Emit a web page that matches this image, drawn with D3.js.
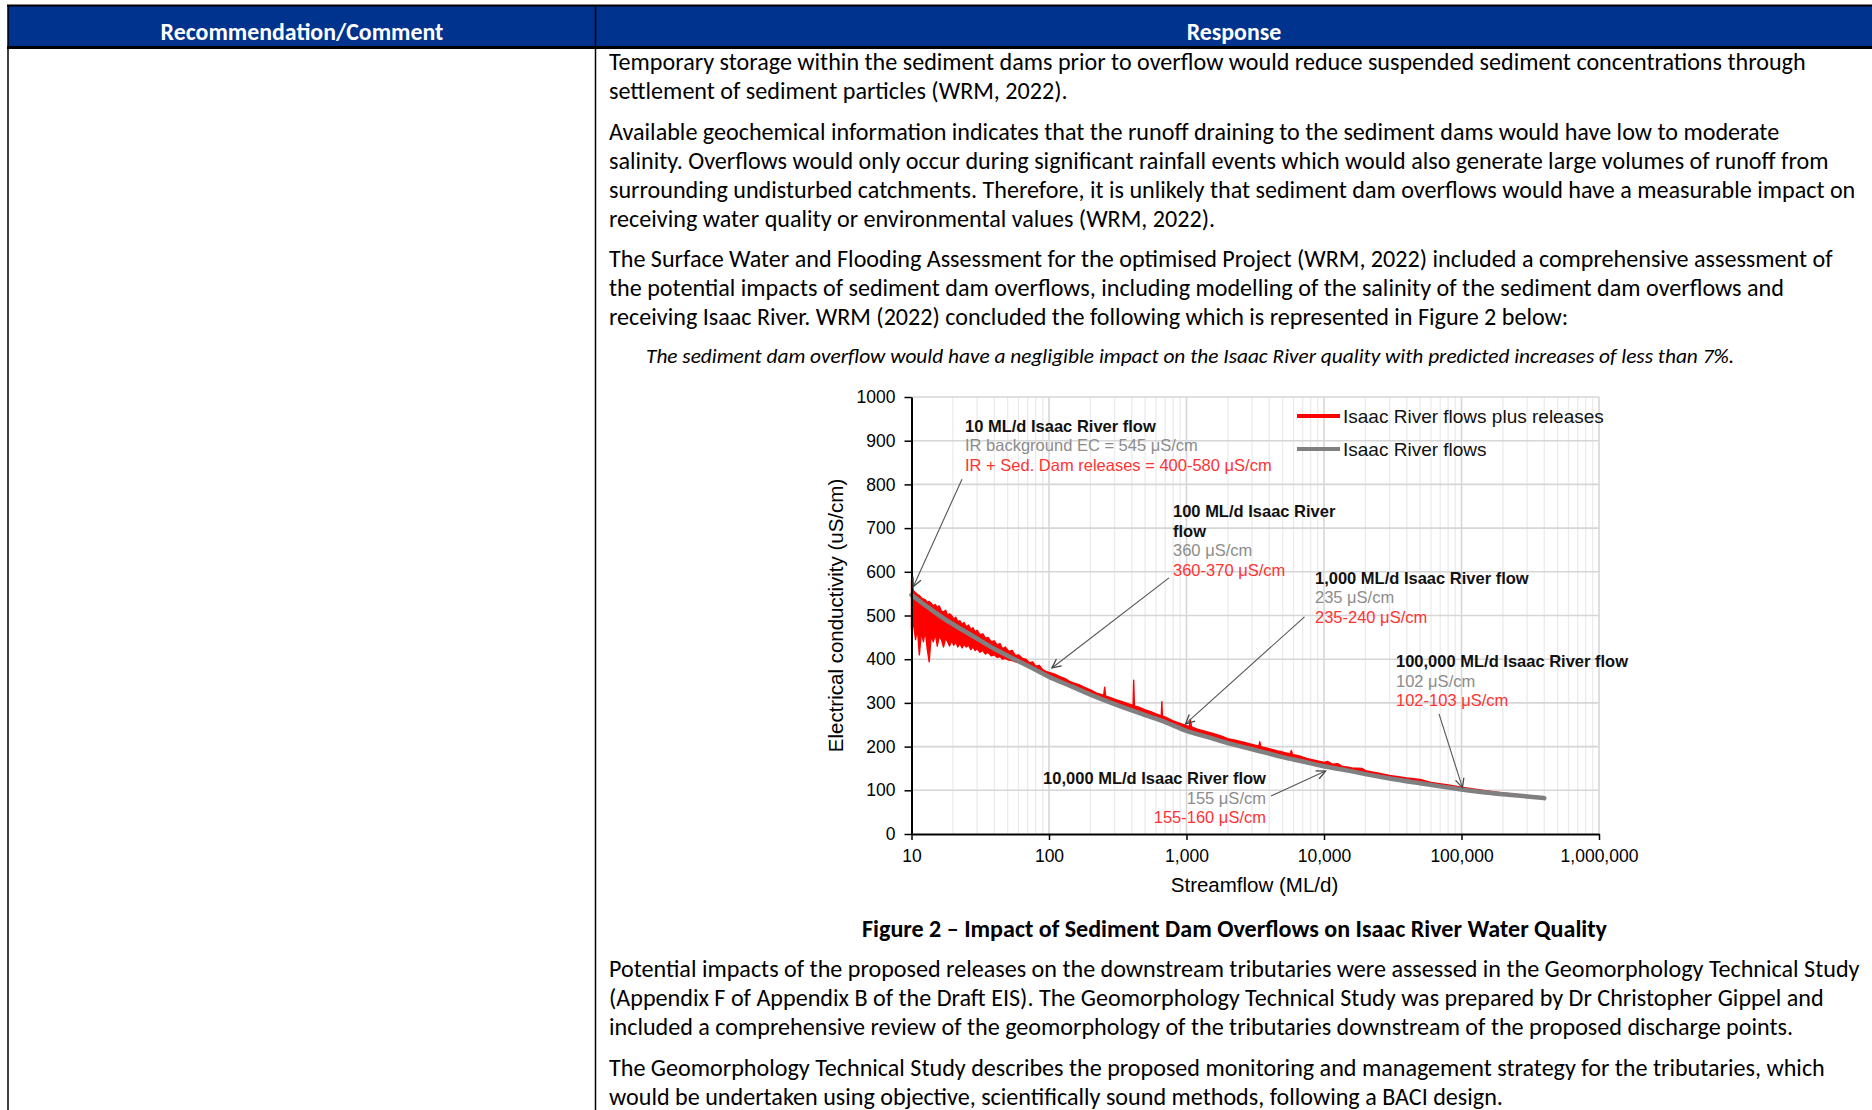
<!DOCTYPE html>
<html>
<head>
<meta charset="utf-8">
<script src="https://cdnjs.cloudflare.com/ajax/libs/d3/7.8.5/d3.min.js"></script>
<style>
	body { margin: 0; background: #fff; }
	svg { display: block; }
</style>
</head>
<body>
<svg width="1872" height="1110"></svg>
<script>
	//chart data: streamflow (ML/d) vs electrical conductivity (uS/cm)
	let xTicks = [10, 100, 1000, 10000, 100000, 1000000];
	let yTicks = [0, 100, 200, 300, 400, 500, 600, 700, 800, 900, 1000];

	//Isaac River flows (background)
	let flowQ = [10, 11, 12, 13, 14, 15, 17, 20, 25, 30, 40, 50, 70, 100, 150, 200, 300, 500, 700,
		1000, 1500, 2000, 3000, 5000, 7000, 10000, 15000, 20000, 30000, 50000, 70000, 100000,
		150000, 200000, 300000, 400000];
	let flowEC = [547, 537, 528, 520, 513, 506, 494, 480, 462, 447, 424, 408, 385, 360, 336, 319, 297, 272, 256,
		236, 220, 208, 194, 176, 166, 155, 145, 137, 127, 116, 109, 102,
		95, 91, 86, 82];

	//Isaac River flows plus releases (min / max envelope)
	let relQ = [10, 10.35, 10.7, 11.05, 11.4, 11.8, 12.2, 12.6, 13, 13.45, 13.9, 14.4, 14.9, 15.4, 15.9,
		16.5, 17.1, 17.7, 18.3, 18.9, 19.6, 20.3, 21, 21.7, 22.5, 23.3, 24.1, 25, 26, 27, 28, 29, 30,
		31.5, 33, 34.5, 36, 38, 40, 42, 44, 46, 48, 51, 54, 57, 60, 64, 68, 72, 76, 80, 85, 90, 95,
		100, 110, 120, 130, 140, 150, 165, 180, 200, 220, 245, 250, 254, 258, 280, 310, 340, 370,
		404, 409, 413, 418, 450, 500, 550, 600, 648, 655, 662, 668, 720, 800, 900, 1000, 1052, 1062, 1090,
		1200, 1400, 1600, 1800, 2000, 2300, 2600, 3000, 3360, 3410, 3470, 4000, 4600, 4800, 5200, 5680,
		5780, 5900, 6500, 7500, 8500, 10000, 10600, 11500, 12600, 13500, 16000, 19000, 20000, 25000, 30000,
		40000, 50000, 60000, 80000, 100000, 150000, 200000, 300000, 400000];
	let relLo = [468, 480, 445, 470, 410, 462, 440, 465, 425, 394, 455, 440, 458, 430, 452,
		445, 428, 448, 440, 430, 442, 432, 440, 428, 436, 426, 434, 428, 432, 422, 428, 420, 424,
		416, 420, 412, 416, 408, 410, 404, 406, 400, 402, 398, 397, 394, 392, 389, 385, 381, 378, 374, 370, 365, 360,
		356, 351, 346, 342, 338, 334, 329, 324, 317, 312, 307, 306, 306, 305, 301, 296, 292, 288,
		284, 283, 283, 283, 279, 273, 268, 264, 260, 260, 260, 259, 255, 249, 242, 236, 233, 233, 232,
		228, 222, 217, 212, 208, 203, 199, 194, 190, 190, 189, 184, 179, 178, 176, 173,
		173, 172, 169, 164, 160, 155, 153, 151, 148, 147, 142, 138, 137, 131, 127,
		120, 116, 112, 106, 102, 95, 91, 85, 81];
	let relHi = [580, 556, 552, 548, 546, 540, 538, 536, 530, 532, 528, 522, 525, 518, 522,
		510, 508, 512, 500, 504, 500, 492, 496, 486, 488, 480, 484, 474, 478, 468, 472, 462, 466,
		456, 458, 448, 450, 440, 442, 432, 436, 424, 428, 418, 420, 408, 410, 402, 400, 392, 394, 384, 386, 376, 372,
		370, 366, 360, 356, 350, 346, 342, 336, 330, 323, 318, 318, 336, 316, 312, 307, 303, 299,
		295, 294, 352, 293, 290, 284, 280, 275, 271, 270, 303, 270, 266, 259, 253, 248, 246, 262, 245,
		240, 234, 229, 224, 218, 214, 210, 205, 201, 211, 200, 195, 190, 189, 186, 183,
		191, 182, 179, 173, 169, 164, 166, 160, 161, 155, 151, 150, 145, 139, 134,
		128, 125, 118, 112, 107, 99, 94, 88, 84];

	let seriesNames = ["Isaac River flows plus releases", "Isaac River flows"];
	let seriesColors = ["#ff0000", "#808080"];

	//callouts: anchor of the text block and arrow tail/head, all in data units
	let notes = [
		{q: 24.5, ec: 921, anchor: "start",
			lines: [["10 ML/d Isaac River flow", "b"], ["IR background EC = 545 μS/cm", "g"], ["IR + Sed. Dam releases = 400-580 μS/cm", "r"]],
			from: [23.3, 812], to: [10.3, 566]},
		{q: 798, ec: 725, anchor: "start",
			lines: [["100 ML/d Isaac River", "b"], ["flow", "b"], ["360 μS/cm", "g"], ["360-370 μS/cm", "r"]],
			from: [746, 586], to: [105, 380]},
		{q: 8600, ec: 573, anchor: "start",
			lines: [["1,000 ML/d Isaac River flow", "b"], ["235 μS/cm", "g"], ["235-240 μS/cm", "r"]],
			from: [7215, 497], to: [984, 252]},
		{q: 33400, ec: 382, anchor: "start",
			lines: [["100,000 ML/d Isaac River flow", "b"], ["102 μS/cm", "g"], ["102-103 μS/cm", "r"]],
			from: [68600, 275], to: [101600, 106]},
		{q: 3785, ec: 114, anchor: "end",
			lines: [["10,000 ML/d Isaac River flow", "b"], ["155 μS/cm", "g"], ["155-160 μS/cm", "r"]],
			from: [4120, 87], to: [10260, 144]}
	];
	let noteColors = {b: "#111", g: "#8c8c8c", r: "#ff3333"};

	//document text
	let topParas = [
		["Temporary storage within the sediment dams prior to overflow would reduce suspended sediment concentrations through",
			"settlement of sediment particles (WRM, 2022)."],
		["Available geochemical information indicates that the runoff draining to the sediment dams would have low to moderate",
			"salinity. Overflows would only occur during significant rainfall events which would also generate large volumes of runoff from",
			"surrounding undisturbed catchments. Therefore, it is unlikely that sediment dam overflows would have a measurable impact on",
			"receiving water quality or environmental values (WRM, 2022)."],
		["The Surface Water and Flooding Assessment for the optimised Project (WRM, 2022) included a comprehensive assessment of",
			"the potential impacts of sediment dam overflows, including modelling of the salinity of the sediment dam overflows and",
			"receiving Isaac River. WRM (2022) concluded the following which is represented in Figure 2 below:"]
	];
	let quote = "The sediment dam overflow would have a negligible impact on the Isaac River quality with predicted increases of less than 7%.";
	let caption = "Figure 2 – Impact of Sediment Dam Overflows on Isaac River Water Quality";
	let bottomParas = [
		["Potential impacts of the proposed releases on the downstream tributaries were assessed in the Geomorphology Technical Study",
			"(Appendix F of Appendix B of the Draft EIS). The Geomorphology Technical Study was prepared by Dr Christopher Gippel and",
			"included a comprehensive review of the geomorphology of the tributaries downstream of the proposed discharge points."],
		["The Geomorphology Technical Study describes the proposed monitoring and management strategy for the tributaries, which",
			"would be undertaken using objective, scientifically sound methods, following a BACI design."]
	];

	let svg = d3.select("svg");
	let docFont = "Carlito, Lato, 'Open Sans', sans-serif";
	let chartFont = "Arial, 'Liberation Sans', sans-serif";

	//scale a text's font size so the line is as wide as in the reference
	function fit(sel, target) {
		let fs = parseFloat(sel.attr("font-size"));
		let w = sel.node().getComputedTextLength();
		return fs * target / w;
	}

	//table frame and header
	svg.append("rect").attr("x", 8).attr("y", 6).attr("width", 1864).attr("height", 41).attr("fill", "#00338e");
	svg.append("line").attr("x1", 7).attr("x2", 1872).attr("y1", 5.5).attr("y2", 5.5).attr("stroke", "#000").attr("stroke-width", 2);
	svg.append("line").attr("x1", 7).attr("x2", 1872).attr("y1", 47.5).attr("y2", 47.5).attr("stroke", "#000").attr("stroke-width", 3);
	svg.append("line").attr("x1", 8).attr("x2", 8).attr("y1", 5).attr("y2", 1110).attr("stroke", "#000").attr("stroke-width", 1.5);
	svg.append("line").attr("x1", 595.5).attr("x2", 595.5).attr("y1", 5).attr("y2", 1110).attr("stroke", "#000").attr("stroke-width", 1.5);

	let h1 = svg.append("text").attr("x", 302).attr("y", 39.5).attr("text-anchor", "middle")
		.attr("font-family", docFont).attr("font-weight", "bold").attr("font-size", 20).attr("fill", "#fff")
		.text("Recommendation/Comment");
	let hs = fit(h1, 283);
	h1.attr("font-size", hs);
	svg.append("text").attr("x", 1234).attr("y", 39.5).attr("text-anchor", "middle")
		.attr("font-family", docFont).attr("font-weight", "bold").attr("font-size", hs).attr("fill", "#fff")
		.text("Response");

	//body paragraphs
	let body = svg.append("g").attr("font-family", docFont).attr("fill", "#000");
	let probe = body.append("text").attr("font-size", 20).text(topParas[0][0]);
	let bodySize = fit(probe, 1197);
	probe.remove();
	body.attr("font-size", bodySize);

	function paragraphs(paras, y0) {
		let yy = y0;
		paras.forEach(function(p) {
			p.forEach(function(line) {
				body.append("text").attr("x", 609).attr("y", yy).text(line);
				yy += 29;
			});
			yy += 11.5;
		});
	}
	paragraphs(topParas, 70);
	paragraphs(bottomParas, 977);

	let q = body.append("text").attr("x", 646).attr("y", 362.5).attr("font-style", "italic")
		.attr("font-size", 18).text(quote);
	q.attr("font-size", fit(q, 1089));
	let c = body.append("text").attr("x", 1234.5).attr("y", 936.5).attr("text-anchor", "middle")
		.attr("font-weight", "bold").attr("font-size", 20).text(caption);
	c.attr("font-size", fit(c, 745));

	//chart
	let x = d3.scaleLog().domain([10, 1000000]).range([911.5, 1599]),
		y = d3.scaleLinear().domain([0, 1000]).range([834, 397]);
	let chart = svg.append("g").attr("font-family", chartFont);

	//grid
	chart.append("g")
		.selectAll("line")
		.data(x.ticks().filter(function(d) { return d > 10; }))
		.join("line")
		.attr("x1", function(d) { return x(d); })
		.attr("x2", function(d) { return x(d); })
		.attr("y1", y(0))
		.attr("y2", y(1000))
		.attr("stroke", function(d) { return xTicks.indexOf(d) >= 0 ? "#d6d6d6" : "#ebebeb"; })
		.attr("stroke-width", function(d) { return xTicks.indexOf(d) >= 0 ? 1.6 : 1.3; });
	chart.append("g")
		.selectAll("line")
		.data(yTicks.slice(1))
		.join("line")
		.attr("x1", x(10))
		.attr("x2", x(1000000))
		.attr("y1", function(d) { return y(d); })
		.attr("y2", function(d) { return y(d); })
		.attr("stroke", "#d6d6d6")
		.attr("stroke-width", 1.6);

	//releases envelope
	let rel = relQ.map(function(d, i) { return {q: d, lo: relLo[i], hi: relHi[i]}; });
	chart.append("path")
		.datum(rel)
		.attr("fill", seriesColors[0])
		.attr("stroke", seriesColors[0])
		.attr("stroke-width", 1.4)
		.attr("stroke-linejoin", "round")
		.attr("d", d3.area()
			.x(function(d) { return x(d.q); })
			.y0(function(d) { return y(d.lo); })
			.y1(function(d) { return y(d.hi); }));

	//background flows
	let flow = flowQ.map(function(d, i) { return {q: d, ec: flowEC[i]}; });
	chart.append("path")
		.datum(flow)
		.attr("fill", "none")
		.attr("stroke", seriesColors[1])
		.attr("stroke-width", 4.5)
		.attr("stroke-linecap", "round")
		.attr("d", d3.line()
			.x(function(d) { return x(d.q); })
			.y(function(d) { return y(d.ec); })
			.curve(d3.curveMonotoneX));

	//axes
	let yAxis = chart.append("g")
		.attr("transform", "translate(" + x(10) + ",0)")
		.call(d3.axisLeft(y).tickValues(yTicks).tickFormat(d3.format("d")).tickSize(7).tickSizeOuter(0).tickPadding(9))
		.attr("font-family", chartFont)
		.attr("font-size", 17.5);
	let xAxis = chart.append("g")
		.attr("transform", "translate(0," + y(0) + ")")
		.call(d3.axisBottom(x).tickValues(xTicks).tickFormat(d3.format(",")).tickSize(6).tickSizeOuter(0).tickPadding(10))
		.attr("font-family", chartFont)
		.attr("font-size", 17.5);
	[yAxis, xAxis].forEach(function(a) {
		a.select(".domain").attr("stroke", "#000").attr("stroke-width", 2);
		a.selectAll(".tick line").attr("stroke", "#000").attr("stroke-width", 1.5);
		a.selectAll(".tick text").attr("fill", "#000");
	});

	chart.append("text")
		.attr("transform", "translate(836," + (y(0) + y(1000)) / 2 + ") rotate(-90)")
		.attr("text-anchor", "middle")
		.attr("dy", "0.35em")
		.attr("font-size", 20.5)
		.attr("fill", "#000")
		.text("Electrical conductivity (uS/cm)");
	chart.append("text")
		.attr("x", 1254.5)
		.attr("y", 892)
		.attr("text-anchor", "middle")
		.attr("font-size", 20.5)
		.attr("fill", "#000")
		.text("Streamflow (ML/d)");

	//legend
	let legend = chart.append("g")
		.selectAll("g")
		.data(seriesNames)
		.join("g")
		.attr("transform", function(d, i) { return "translate(1297," + (416 + i * 33) + ")"; });
	legend.append("line")
		.attr("x2", 43)
		.attr("stroke", function(d, i) { return seriesColors[i]; })
		.attr("stroke-width", 4);
	legend.append("text")
		.attr("x", 46)
		.attr("dy", "0.35em")
		.attr("font-size", 19)
		.attr("fill", "#111")
		.text(function(d) { return d; });

	//callouts
	let callouts = chart.append("g").attr("font-size", 16.5);
	notes.forEach(function(n) {
		let t = callouts.append("text")
			.attr("x", x(n.q))
			.attr("y", y(n.ec))
			.attr("text-anchor", n.anchor);
		n.lines.forEach(function(l, i) {
			t.append("tspan")
				.attr("x", x(n.q))
				.attr("dy", i ? 19.5 : 0)
				.attr("fill", noteColors[l[1]])
				.attr("font-weight", l[1] == "b" ? "bold" : "normal")
				.text(l[0]);
		});
		let x1 = x(n.from[0]), y1 = y(n.from[1]), x2 = x(n.to[0]), y2 = y(n.to[1]);
		let a = Math.atan2(y2 - y1, x2 - x1), len = 10, w = 0.45;
		callouts.append("line")
			.attr("x1", x1).attr("y1", y1).attr("x2", x2).attr("y2", y2)
			.attr("stroke", "#555").attr("stroke-width", 1.1);
		callouts.append("path")
			.attr("d", "M" + (x2 - len * Math.cos(a - w)) + "," + (y2 - len * Math.sin(a - w)) +
				"L" + x2 + "," + y2 +
				"L" + (x2 - len * Math.cos(a + w)) + "," + (y2 - len * Math.sin(a + w)))
			.attr("fill", "none")
			.attr("stroke", "#444")
			.attr("stroke-width", 1.3);
	});
</script>
</body>
</html>
